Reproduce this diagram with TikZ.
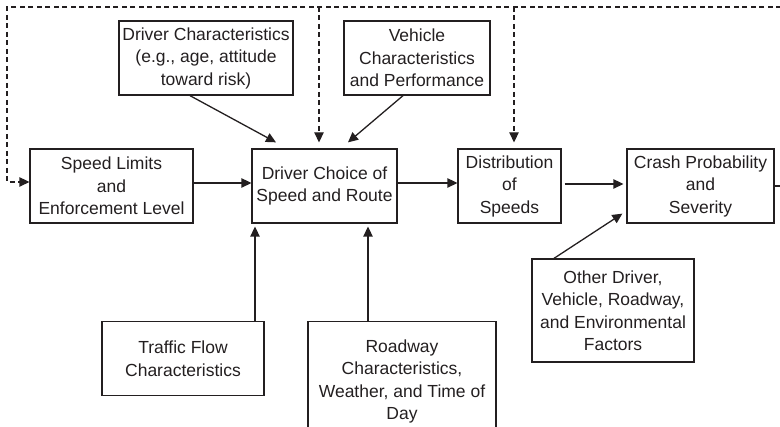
\documentclass[tikz,border=0pt]{standalone}
\usepackage{fontspec}
\setmainfont{Liberation Sans}
\usetikzlibrary{arrows.meta}
\definecolor{ink}{RGB}{35,31,32}

\begin{document}
\begin{tikzpicture}[x=1pt, y=-1pt,
    box/.style={draw=ink, line width=1.3pt, text=ink, align=center, inner sep=0pt,
      font=\fontsize{17.5}{22.5}\selectfont},
    arr/.style={draw=ink, line width=1.3pt, -{Triangle[length=10pt, width=9.5pt]}},
    loop/.style={arr, dash pattern=on 5pt off 3.5pt}
  ]
  \useasboundingbox (0,0) rectangle (780,427);
  % main row
  \node[box, minimum width=163pt, minimum height=74pt] (speed) at (111.5,186) {Speed Limits\\and\\Enforcement Level};
  \node[box, minimum width=145pt, minimum height=74pt] (choice) at (324.5,186) {Driver Choice of\\Speed and Route};
  \node[box, minimum width=103pt, minimum height=74pt] (dist) at (509.5,186) {Distribution\\of\\Speeds};
  \node[box, minimum width=147pt, minimum height=74pt] (crash) at (700.5,186) {Crash Probability\\and\\Severity};
  % upper inputs
  \node[box, minimum width=174pt, minimum height=74pt] (drvchar) at (206,58) {Driver Characteristics\\(e.g., age, attitude\\toward risk)};
  \node[box, minimum width=146pt, minimum height=74pt] (vehicle) at (417,58) {Vehicle\\Characteristics\\and Performance};
  % lower inputs
  \node[box, minimum width=162pt, minimum height=74.5pt] (traffic) at (183,358.5) {Traffic Flow\\Characteristics};
  \node[box, minimum width=188pt, minimum height=120pt, anchor=north] (roadway) at (402,321) {Roadway\\Characteristics,\\Weather, and Time of\\Day};
  \node[box, minimum width=162pt, minimum height=103pt] (other) at (613,310.5) {Other Driver,\\Vehicle, Roadway,\\and Environmental\\Factors};
  % feedback loop
  \coordinate (top1) at (319,7);
  \coordinate (top2) at (514,7);
  \draw[loop] (crash.east) -- ++(20,0) |- (7,7) |- ([yshift=4pt]speed.west);
  \draw[loop] (top1) -- ([shift={(-5.5,-6)}]choice.north);
  \draw[loop] (top2) -- ([shift={(4.5,-6)}]dist.north);
  % flow
  \draw[arr] ([yshift=3pt]speed.east) -- ([yshift=3pt]choice.west);
  \draw[arr] ([yshift=3pt]choice.east) -- ([yshift=3pt]dist.west);
  \draw[arr, shorten <=3pt, shorten >=3pt] ([yshift=2pt]dist.east) -- ([yshift=2pt]crash.west);
  \draw[arr] ([xshift=-16pt]drvchar.south) -- ([shift={(-48.5,-6)}]choice.north);
  \draw[arr] ([xshift=-14pt]vehicle.south) -- ([shift={(23.5,-6)}]choice.north);
  \draw[arr] ([xshift=72pt]traffic.north) -- ([shift={(-69.5,3)}]choice.south);
  \draw[arr] ([xshift=-34pt]roadway.north) -- ([shift={(43.5,3)}]choice.south);
  \draw[arr] ([xshift=-59pt]other.north) -- ([shift={(-4,-10)}]crash.south west);
\end{tikzpicture}
\end{document}
